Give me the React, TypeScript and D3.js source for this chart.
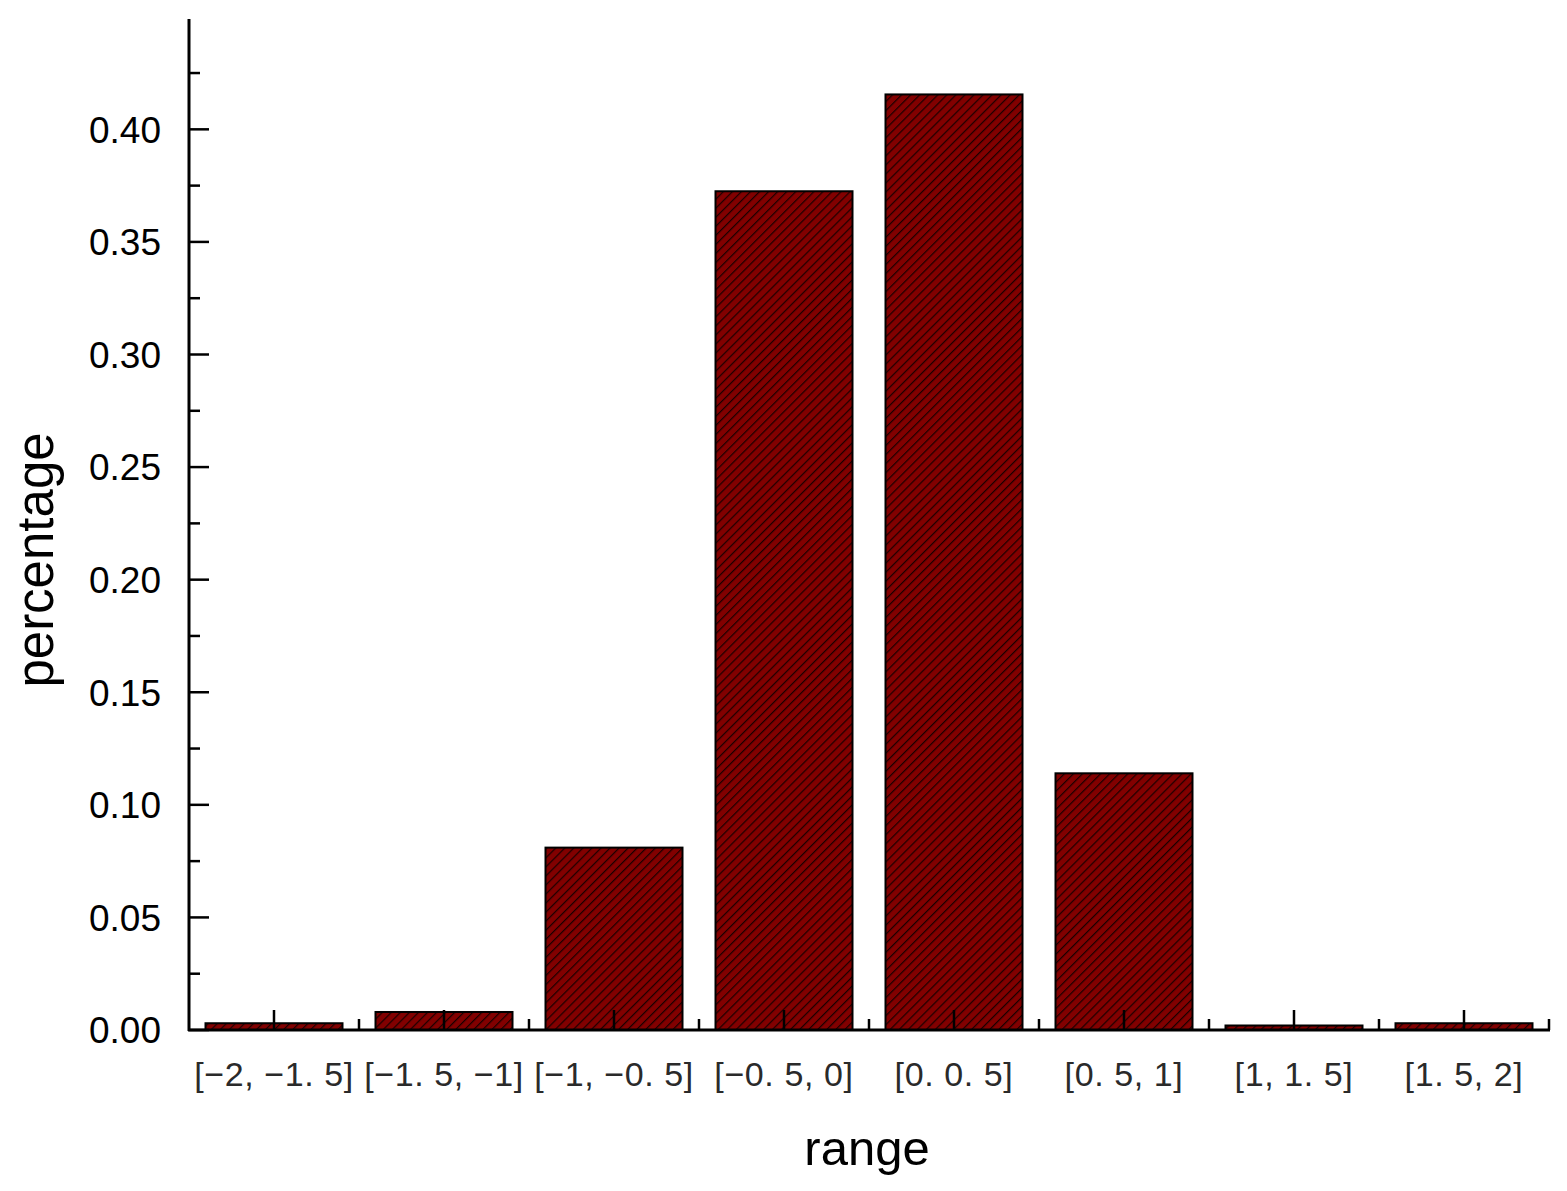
import React from "react";
import * as d3 from "d3";

const categories = ["[−2, −1. 5]", "[−1. 5, −1]", "[−1, −0. 5]", "[−0. 5, 0]", "[0. 0. 5]", "[0. 5, 1]", "[1, 1. 5]", "[1. 5, 2]"];
const values = [0.003, 0.008, 0.081, 0.3725, 0.4155, 0.114, 0.002, 0.003];
const yTicks = [0, 0.05, 0.1, 0.15, 0.2, 0.25, 0.3, 0.35, 0.4];
const yMinorTicks = [0.025, 0.075, 0.125, 0.175, 0.225, 0.275, 0.325, 0.375, 0.425];

export default function App() {
  const W = 1567, H = 1191;
  const x0 = 189, x1 = 1549, yBase = 1030, yTop = 19;
  const xc = d3.scaleBand<string>().domain(categories).range([x0, x1]);
  const y = d3.scaleLinear().domain([0, 0.449]).range([yBase, yTop]);
  const bw = 137;
  const sans = "Liberation Sans, Arial, sans-serif";
  const p = 6.4;
  return (
    <svg width={W} height={H} style={{ position: "absolute", left: 0, top: 0 }}>
      <defs>
        <pattern id="hatch" patternUnits="userSpaceOnUse" width={p} height={p} patternTransform="rotate(45)">
          <rect width={p} height={p} fill="#820000" />
          <line x1="0" y1="0" x2="0" y2={p} stroke="#1a0000" strokeWidth="2.4" />
        </pattern>
      </defs>
      <rect width={W} height={H} fill="#fff" />
      {categories.map((c, i) => {
        const cx = (xc(c) as number) + xc.bandwidth() / 2;
        return (
          <rect key={c} x={cx - bw / 2} y={y(values[i])} width={bw} height={yBase - y(values[i])}
            fill="url(#hatch)" stroke="#000" strokeWidth={2} />
        );
      })}
      <line x1={x0} x2={x0} y1={yTop} y2={yBase + 1} stroke="#000" strokeWidth={3} />
      <line x1={x0 - 1} x2={x1 + 1} y1={yBase} y2={yBase} stroke="#000" strokeWidth={3} />
      {yTicks.map(t => (
        <g key={t}>
          <line x1={x0} x2={x0 + 20} y1={y(t)} y2={y(t)} stroke="#000" strokeWidth={2.5} />
          <text x={161} y={y(t)} dy="0.36em" textAnchor="end" fontFamily={sans} fontSize={37} fill="#000">{t.toFixed(2)}</text>
        </g>
      ))}
      {yMinorTicks.map(t => (
        <line key={t} x1={x0} x2={x0 + 11} y1={y(t)} y2={y(t)} stroke="#000" strokeWidth={2.5} />
      ))}
      {categories.map(c => {
        const cx = (xc(c) as number) + xc.bandwidth() / 2;
        return (
          <g key={c}>
            <line x1={cx} x2={cx} y1={yBase} y2={yBase - 20} stroke="#000" strokeWidth={2.5} />
            <text x={cx} y={1086} textAnchor="middle" fontFamily={sans} fontSize={34} letterSpacing={0.6} fill="#2a2a2a">{c}</text>
          </g>
        );
      })}
      {d3.range(1, categories.length + 1).map(i => {
        const bx = x0 + i * xc.step();
        return <line key={i} x1={bx} x2={bx} y1={yBase} y2={yBase - 11} stroke="#000" strokeWidth={2.5} />;
      })}
      <text x={867} y={1165} textAnchor="middle" fontFamily={sans} fontSize={49} fill="#000">range</text>
      <text transform="translate(53,560) rotate(-90)" textAnchor="middle" fontFamily={sans} fontSize={51} fill="#000">percentage</text>
    </svg>
  );
}
